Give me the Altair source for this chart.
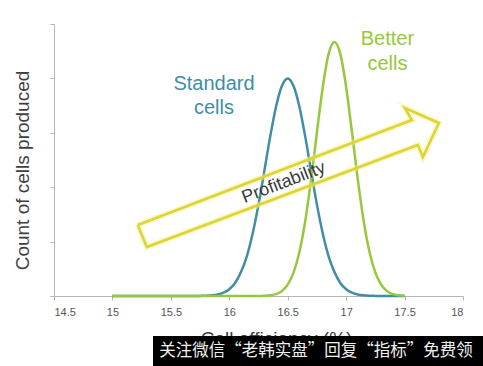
import altair as alt
import pandas as pd

# ---- data ----
efficiency = [15.00, 15.05, 15.10, 15.15, 15.20, 15.25, 15.30, 15.35, 15.40, 15.45,
              15.50, 15.55, 15.60, 15.65, 15.70, 15.75, 15.80, 15.85, 15.90, 15.95,
              16.00, 16.05, 16.10, 16.15, 16.20, 16.25, 16.30, 16.35, 16.40, 16.45,
              16.50, 16.55, 16.60, 16.65, 16.70, 16.75, 16.80, 16.85, 16.90, 16.95,
              17.00, 17.05, 17.10, 17.15, 17.20, 17.25, 17.30, 17.35, 17.40, 17.45,
              17.50]
standard_counts = [0, 0, 0, 0, 0, 0, 0, 0, 0, 0,
                   0, 0, 0, 0, 0, 0.002, 0.005, 0.012, 0.027, 0.06,
                   0.125, 0.24, 0.44, 0.73, 1.15, 1.68, 2.30, 2.93, 3.48, 3.86,
                   4.00, 3.86, 3.48, 2.93, 2.30, 1.68, 1.15, 0.73, 0.44, 0.24,
                   0.125, 0.06, 0.027, 0.012, 0.005, 0.002, 0, 0, 0, 0,
                   0]
better_counts = [0, 0, 0, 0, 0, 0, 0, 0, 0, 0,
                 0, 0, 0, 0, 0, 0, 0, 0, 0, 0,
                 0, 0, 0, 0, 0, 0, 0.004, 0.013, 0.035, 0.09,
                 0.21, 0.43, 0.81, 1.38, 2.14, 3.01, 3.84, 4.45, 4.67, 4.45,
                 3.84, 3.01, 2.14, 1.38, 0.81, 0.43, 0.21, 0.09, 0.035, 0.013,
                 0.004]
series_names = ["Standard cells", "Better cells"]
series_colors = ["#428da6", "#95c93c"]

x_ticks = [14.5, 15, 15.5, 16, 16.5, 17, 17.5, 18]
y_ticks = [0, 1, 2, 3, 4, 5]

# arrow outline (data coordinates)
arrow_x = [15.217, 17.562, 17.503, 17.794, 17.657, 17.614, 15.294, 15.217]
arrow_y = [1.305, 3.235, 3.456, 3.180, 2.555, 2.776, 0.901, 1.305]

# annotation labels
label_text = ["Standard", "cells", "Better", "cells"]
label_x = [15.869, 15.869, 17.353, 17.353]
label_y = [3.897, 3.456, 4.724, 4.265]
label_series = ["Standard cells", "Standard cells", "Better cells", "Better cells"]

arrow_label = "Profitability"
arrow_label_x = [16.467]
arrow_label_y = [2.08]

watermark = "关注微信“老韩实盘”回复“指标”免费领"

# ---- tables ----
curves = pd.concat([
    pd.DataFrame({"eff": efficiency, "count": standard_counts, "series": series_names[0]}),
    pd.DataFrame({"eff": efficiency, "count": better_counts, "series": series_names[1]}),
], ignore_index=True)
arrow_df = pd.DataFrame({"x": arrow_x, "y": arrow_y, "order": list(range(len(arrow_x)))})
labels_df = pd.DataFrame({"x": label_x, "y": label_y, "t": label_text, "series": label_series})
plab_df = pd.DataFrame({"x": arrow_label_x, "y": arrow_label_y, "t": [arrow_label]})
wm_df = pd.DataFrame({"t": [watermark]})

xscale = alt.Scale(domain=[14.5, 18], nice=False, zero=False)
yscale = alt.Scale(domain=[0, 5], nice=False)
cscale = alt.Scale(domain=series_names, range=series_colors)

FONT = "Liberation Sans"

xaxis = alt.Axis(values=x_ticks, labelExpr="'' + datum.value", title="Cell efficiency (%)",
                 titleFontSize=19, titleFontWeight="normal", titleColor="#404040",
                 titleFont=FONT, titlePadding=12, titleX=222,
                 labelFontSize=11, labelColor="#555555", labelFont=FONT, labelPadding=6)
yaxis = alt.Axis(values=y_ticks, labels=False, title="Count of cells produced",
                 titleFontSize=19, titleFontWeight="normal", titleColor="#404040",
                 titleFont=FONT, titleX=-26, titleY=146, titleBaseline="alphabetic",
                 titleAlign="center", titleAngle=270)

lines = alt.Chart(curves).mark_line(strokeWidth=2.5, interpolate="monotone").encode(
    x=alt.X("eff:Q", scale=xscale, axis=xaxis),
    y=alt.Y("count:Q", scale=yscale, axis=yaxis),
    color=alt.Color("series:N", scale=cscale, legend=None),
    detail="series:N",
)

arrow_glow = alt.Chart(arrow_df).mark_line(strokeWidth=6, color="#f3ee8a", opacity=0.45).encode(
    x=alt.X("x:Q", scale=xscale), y=alt.Y("y:Q", scale=yscale), order="order:Q")
arrow = alt.Chart(arrow_df).mark_line(strokeWidth=2.6, color="#ddd436").encode(
    x=alt.X("x:Q", scale=xscale), y=alt.Y("y:Q", scale=yscale), order="order:Q")

labels = alt.Chart(labels_df).mark_text(fontSize=20, font=FONT, align="center", baseline="middle").encode(
    x=alt.X("x:Q", scale=xscale), y=alt.Y("y:Q", scale=yscale), text="t:N",
    color=alt.Color("series:N", scale=cscale, legend=None))

plab = alt.Chart(plab_df).mark_text(fontSize=18, font=FONT, color="#3a3a3a", angle=339,
                                     align="center", baseline="middle").encode(
    x=alt.X("x:Q", scale=xscale), y=alt.Y("y:Q", scale=yscale), text="t:N")

wm_rect = alt.Chart(wm_df).mark_rect(color="#000000").encode(
    x=alt.value(99), x2=alt.value(429), y=alt.value(312), y2=alt.value(342))
wm_text = alt.Chart(wm_df).mark_text(color="#f0f0f0", fontSize=16.5, font="Noto Sans CJK SC",
                                      align="center", baseline="middle").encode(
    x=alt.value(262), y=alt.value(327), text="t:N")

chart = alt.layer(lines, arrow_glow, arrow, labels, plab, wm_rect, wm_text).properties(
    width=409, height=272,
    autosize=alt.AutoSizeParams(type="none"),
    padding={"left": 54, "top": 24, "right": 20, "bottom": 70},
    background="#ffffff",
).configure_view(stroke=None).configure_axis(
    grid=False, domainColor="#b5b5b5", tickColor="#b5b5b5", tickSize=4, domainWidth=1)

chart.save("out.html", embed_options={"renderer": "svg", "actions": False})
